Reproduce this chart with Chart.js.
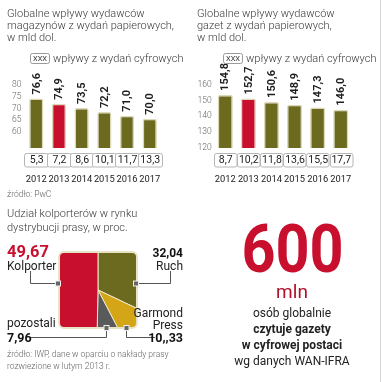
<!DOCTYPE html>
<html>
<head>
<meta charset="utf-8">
<script src="https://cdn.jsdelivr.net/npm/chart.js@4.4.1/dist/chart.umd.min.js"></script>
<style>
  html, body { margin: 0; padding: 0; background: #fff; }
  #wrap { position: relative; width: 381px; height: 382px; overflow: hidden; font-family: Roboto, sans-serif; }
  canvas { position: absolute; }
  svg { position: absolute; left: 0; top: 0; pointer-events: none; }
  .t { font-family: Roboto, sans-serif; }
</style>
</head>
<body>
<div id="wrap">
  <canvas id="mag" width="186" height="130" style="left:0;top:60px;width:186px;height:130px"></canvas>
  <canvas id="gaz" width="190" height="130" style="left:188px;top:60px;width:190px;height:130px"></canvas>
  <canvas id="pie" width="86" height="84" style="left:55px;top:248px;width:86px;height:84px"></canvas>
  <svg width="381" height="382" viewBox="0 0 381 382">
    <line x1="380.5" y1="0" x2="380.5" y2="382" stroke="#d4d4d4" stroke-width="1"/>
    <g class="t" font-size="11" font-weight="300" fill="#3a3a3a">
      <text x="7" y="16.7">Globalne wpływy wydawców</text>
      <text x="7" y="28.7">magazynów z wydań papierowych,</text>
      <text x="7" y="40.7">w mld dol.</text>
      <text x="197" y="16.7">Globalne wpływy wydawców</text>
      <text x="197" y="28.7">gazet z wydań papierowych,</text>
      <text x="197" y="40.7">w mld dol.</text>
      <text x="53" y="61.5">wpływy z wydań cyfrowych</text>
      <text x="246" y="61.5">wpływy z wydań cyfrowych</text>
      <text x="7" y="216.5">Udział kolporterów w rynku</text>
      <text x="7" y="230.5">dystrybucji prasy, w proc.</text>
    </g>
    <rect x="30.5" y="53.5" width="19" height="10" rx="2" fill="#fff" stroke="#9a9a9a"/>
    <rect x="223.5" y="53.5" width="19" height="10" rx="2" fill="#fff" stroke="#9a9a9a"/>
    <g class="t" font-size="7.5" fill="#333" text-anchor="middle">
      <text x="40" y="61.3">XXX</text>
      <text x="233" y="61.3">XXX</text>
    </g>
    <text class="t" x="7" y="196.5" font-size="8.5" font-weight="300" fill="#666">źródło: PwC</text>

    <g fill="none" stroke="#555" stroke-width="1">
      <path d="M30.5 271 V283.5 H58"/>
      <path d="M136 283.5 H170.5 V271"/>
      <path d="M30 337.5 H106.5 V328"/>
      <path d="M126.5 328 V337.5 H155"/>
    </g>
    <g fill="#666" stroke="#eee" stroke-width="1">
      <rect x="55.5" y="281" width="5" height="5"/>
      <rect x="133.5" y="281" width="5" height="5"/>
      <rect x="104" y="325.5" width="5" height="5"/>
      <rect x="124" y="325.5" width="5" height="5"/>
    </g>
    <g class="t">
      <text x="7" y="257" font-size="16.5" font-weight="700" fill="#c8102e">49,67</text>
      <text x="7" y="269.5" font-size="12" fill="#222">Kolporter</text>
      <text x="183" y="257" font-size="12" font-weight="700" fill="#111" text-anchor="end">32,04</text>
      <text x="183" y="269.5" font-size="12" fill="#222" text-anchor="end">Ruch</text>
      <text x="183" y="317" font-size="12" fill="#222" text-anchor="end">Garmond</text>
      <text x="183" y="328.5" font-size="12" fill="#222" text-anchor="end">Press</text>
      <text x="183" y="341.5" font-size="12.5" font-weight="700" fill="#111" text-anchor="end">10,,33</text>
      <text x="7" y="327" font-size="12" fill="#222">pozostali</text>
      <text x="7" y="341.5" font-size="12.5" font-weight="700" fill="#111">7,96</text>
      <text x="7" y="356.5" font-size="8.5" font-weight="300" fill="#666">źródło: IWP, dane w oparciu o nakłady prasy</text>
      <text x="7" y="368.5" font-size="8.5" font-weight="300" fill="#666">rozwiezione w lutym 2013 r.</text>
    </g>
    <g class="t" text-anchor="middle">
      <text transform="translate(292.5,272) scale(0.9,1)" x="0" y="0" font-size="66" font-weight="700" fill="#c8102e">600</text>
      <text x="292" y="298" font-size="19" fill="#b0102a">mln</text>
      <text x="292" y="317" font-size="12" fill="#222">osób globalnie</text>
      <text x="292" y="333" font-size="12" font-weight="700" fill="#222">czytuje gazety</text>
      <text x="292" y="349" font-size="12" font-weight="700" fill="#222">w cyfrowej postaci</text>
      <text x="292" y="364.5" font-size="12" fill="#222">wg danych WAN-IFRA</text>
    </g>
  </svg>
</div>
<script>
// ---- data ----
const years = ['2012', '2013', '2014', '2015', '2016', '2017'];
const magazinePrint = [76.6, 74.9, 73.5, 72.2, 71.0, 70.0];
const magazineDigital = [5.3, 7.2, 8.6, 10.1, 11.7, 13.3];
const magazineTicks = [60, 65, 70, 75, 80];
const newspaperPrint = [154.8, 152.7, 150.6, 148.9, 147.3, 146.0];
const newspaperDigital = [8.7, 10.2, 11.8, 13.6, 15.5, 17.7];
const newspaperTicks = [120, 130, 140, 150, 160];
const highlightYear = '2013';
const distributors = ['Ruch', 'Garmond Press', 'pozostali', 'Kolporter'];
const distributorShares = [32.04, 10.33, 7.96, 49.67];

// ---- styling ----
const OLIVE = '#6b6a1e', RED = '#c8102e', YELLOW = '#d4a517', GREY = '#5a5a5a';
const fmt = v => v.toFixed(1).replace('.', ',');

function barLabelsAndBoxes(digital, boxW) {
  return {
    id: 'barExtras',
    afterDatasetsDraw(chart) {
      const ctx = chart.ctx;
      const meta = chart.getDatasetMeta(0);
      const ds = chart.data.datasets[0].data;
      const bottom = chart.chartArea.bottom;
      ctx.save();
      meta.data.forEach((bar, i) => {
        ctx.save();
        ctx.translate(bar.x + 0.5, bar.y - 4);
        ctx.rotate(-Math.PI / 2);
        ctx.font = '700 11px Roboto';
        ctx.fillStyle = '#1e1e1e';
        ctx.textAlign = 'left';
        ctx.textBaseline = 'middle';
        ctx.fillText(fmt(ds[i]), 0, 0);
        ctx.restore();
        const x = chart.scales.x.getPixelForValue(i);
        const top = bottom + 5, h = 13.5;
        ctx.beginPath();
        ctx.roundRect(Math.round(x - boxW / 2) + 0.5, top + 0.5, boxW, h, 2);
        ctx.fillStyle = '#fff';
        ctx.fill();
        ctx.strokeStyle = '#b5b5b5';
        ctx.lineWidth = 1;
        ctx.stroke();
        ctx.font = '400 10.5px Roboto';
        ctx.fillStyle = '#222';
        ctx.textAlign = 'center';
        ctx.textBaseline = 'middle';
        ctx.fillText(fmt(digital[i]), x + 0.5, top + h / 2 + 1);
      });
      ctx.restore();
    }
  };
}

function barChart(id, values, digital, ticks, cfg) {
  return new Chart(document.getElementById(id), {
    type: 'bar',
    data: {
      labels: years,
      datasets: [{
        data: values,
        backgroundColor: years.map(y => y === highlightYear ? RED : OLIVE),
        borderColor: '#ddd8b8',
        borderWidth: 1.5,
        borderRadius: 2,
        borderSkipped: false,
        barPercentage: cfg.barPct,
        categoryPercentage: 1,
        yAxisID: 'y'
      }]
    },
    options: {
      responsive: false,
      animation: false,
      devicePixelRatio: 1,
      layout: { padding: { top: 25, right: cfg.padRight, left: 0, bottom: 0 } },
      plugins: { legend: { display: false }, tooltip: { enabled: false } },
      scales: {
        x: {
          grid: { display: false, drawTicks: false },
          border: { display: false },
          ticks: { font: { family: 'Roboto', size: 9.3 }, color: '#222', padding: 26, maxRotation: 0, autoSkip: false },
          afterFit: s => { s.height = 42; }
        },
        y: { display: false, min: cfg.barMin, max: cfg.barMax },
        yl: {
          position: 'left',
          min: cfg.lblMin, max: cfg.lblMax,
          grid: { display: false, drawTicks: false },
          border: { display: false },
          afterBuildTicks: s => { s.ticks = ticks.map(v => ({ value: v })); },
          ticks: { font: { family: 'Roboto', size: 8.5, weight: 300 }, color: '#666', padding: cfg.tickPad },
          afterFit: s => { s.width = cfg.axisW; }
        }
      }
    },
    plugins: [barLabelsAndBoxes(digital, cfg.boxW)]
  });
}

barChart('mag', magazinePrint, magazineDigital, magazineTicks, {
  barPct: 0.63, padRight: 4, axisW: 18.6, tickPad: 3.5,
  barMin: 60.4, barMax: 81.06, lblMin: 53.19, lblMax: 80, boxW: 24
});
barChart('gaz', newspaperPrint, newspaperDigital, newspaperTicks, {
  barPct: 0.66, padRight: 11, axisW: 24, tickPad: 2,
  barMin: 123.1, barMax: 160.7, lblMin: 119.6, lblMax: 160, boxW: 22.5
});

// ---- square pie ----
const rectPlugin = {
  id: 'rectClip',
  beforeDatasetsDraw(chart) {
    const ctx = chart.ctx;
    ctx.save();
    ctx.beginPath();
    ctx.roundRect(4, 4, 78, 76, 5);
    ctx.clip();
  },
  afterDatasetsDraw(chart) {
    const ctx = chart.ctx;
    ctx.restore();
    ctx.save();
    ctx.beginPath();
    ctx.roundRect(4, 4, 78, 76, 5);
    ctx.strokeStyle = '#e8e3c4';
    ctx.lineWidth = 2;
    ctx.stroke();
    ctx.restore();
  }
};
new Chart(document.getElementById('pie'), {
  type: 'pie',
  data: {
    labels: distributors,
    datasets: [{
      data: distributorShares,
      backgroundColor: [OLIVE, YELLOW, GREY, RED],
      borderColor: '#efeacb',
      borderWidth: 1,
      clip: false
    }]
  },
  options: {
    responsive: false,
    animation: false,
    devicePixelRatio: 1,
    radius: 62,
    layout: { padding: 0 },
    plugins: { legend: { display: false }, tooltip: { enabled: false } }
  },
  plugins: [rectPlugin]
});
</script>
</body>
</html>
